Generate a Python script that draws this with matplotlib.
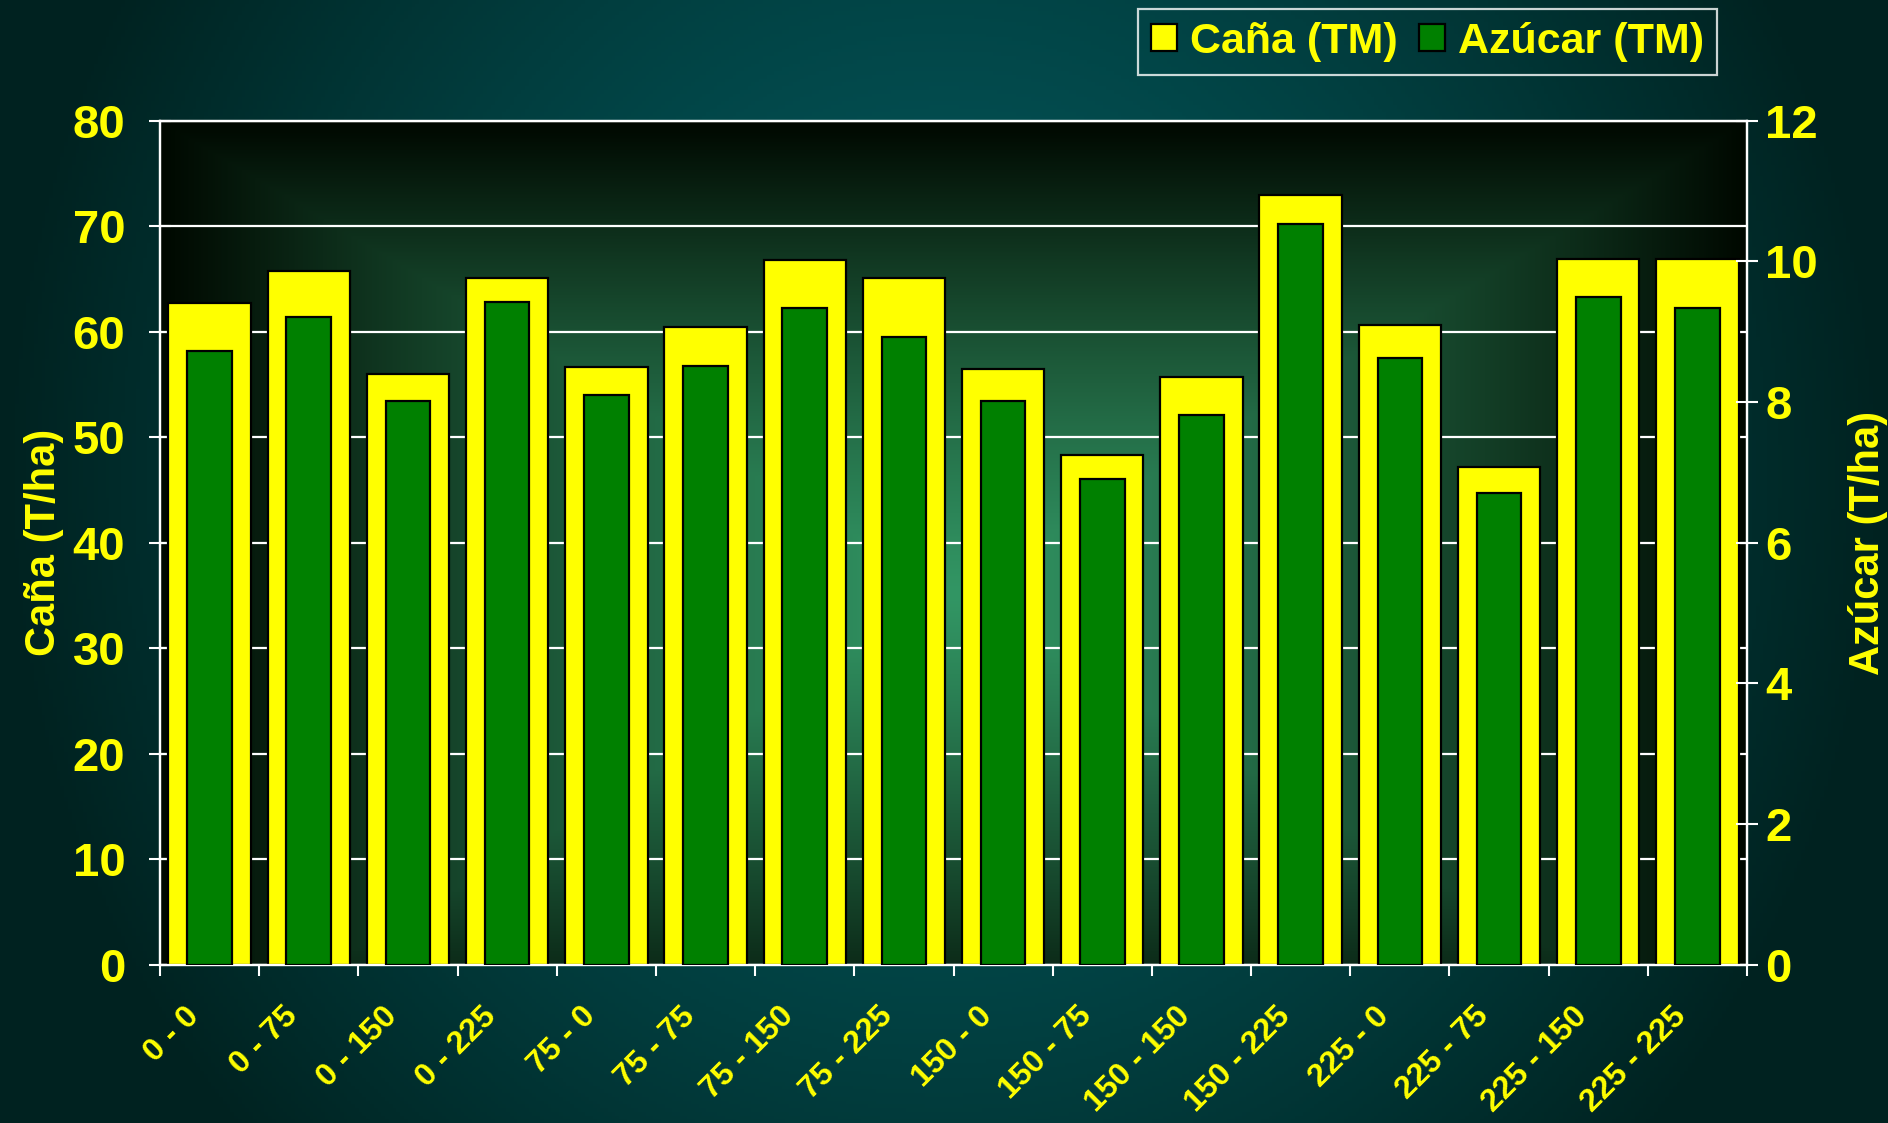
import matplotlib as mpl
import matplotlib.pyplot as plt
import numpy as np
from matplotlib.patches import Patch
from matplotlib.transforms import ScaledTranslation

mpl.rcParams.update(
    {
        "font.family": "sans-serif",
        "font.sans-serif": ["Liberation Sans", "Arial", "DejaVu Sans"],
        "font.weight": "bold",
    }
)

# dosis (kg/ha) combinations
categories = [
    "0 - 0", "0 - 75", "0 - 150", "0 - 225",
    "75 - 0", "75 - 75", "75 - 150", "75 - 225",
    "150 - 0", "150 - 75", "150 - 150", "150 - 225",
    "225 - 0", "225 - 75", "225 - 150", "225 - 225",
]
cana = [62.7, 65.8, 56.0, 65.1, 56.7, 60.4, 66.8, 65.1,
        56.5, 48.3, 55.7, 73.0, 60.6, 47.2, 66.9, 66.9]
azucar = [8.72, 9.21, 8.01, 9.42, 8.10, 8.51, 9.33, 8.92,
          8.02, 6.91, 7.81, 10.53, 8.62, 6.70, 9.50, 9.33]
left_ticks = [0, 10, 20, 30, 40, 50, 60, 70, 80]
right_ticks = [0, 2, 4, 6, 8, 10, 12]

YELLOW = "#FFFF00"
GREEN = "#008000"
WHITE = "#FFFFFF"

W, H = 1888, 1123
fig = plt.figure(figsize=(W / 100, H / 100), dpi=100)

# slide background: teal, lighter toward the middle
bg = fig.add_axes([0, 0, 1, 1], zorder=-10)
yy, xx = np.mgrid[0:1:300j, 0:1:500j]
d = np.sqrt(((xx - 0.5) / 0.5) ** 2 + ((yy - 0.42) / 0.9) ** 2)
d = np.clip(d, 0, 1)
c_in = np.array([3, 90, 94]) / 255
c_out = np.array([0, 34, 32]) / 255
img = c_in + (c_out - c_in) * d[..., None] ** 1.3
bg.imshow(img, extent=(0, 1, 0, 1), aspect="auto", origin="upper")
bg.axis("off")

ax = fig.add_axes([160 / W, 1 - 964.7 / H, (1747 - 160) / W, (964.7 - 120.7) / H])
ax2 = ax.twinx()
ax.set_zorder(1)
ax2.set_zorder(2)
ax.patch.set_alpha(0)
ax2.patch.set_alpha(0)

# plot area: rectangular path gradient, black edges to green centre
py, px = np.mgrid[0:1:300j, 0:1:600j]
pd = np.maximum(np.abs(px - 0.5) / 0.5, np.abs(py - 0.56) / 0.56)
pd = np.clip(pd, 0, 1)
p_in = np.array([50, 150, 100]) / 255
p_out = np.array([0, 8, 0]) / 255
pimg = p_in + (p_out - p_in) * pd[..., None] ** 1.2
ax.imshow(pimg, extent=(-0.5, len(categories) - 0.5, 0, 80), aspect="auto",
          origin="upper", zorder=0)

x = np.arange(len(categories))
ax.bar(x, cana, width=0.83, color=YELLOW, edgecolor="black", linewidth=1.6, zorder=3)
ax2.bar(x, azucar, width=0.45, color=GREEN, edgecolor="black", linewidth=1.6, zorder=3)

ax.set_xlim(-0.5, len(categories) - 0.5)
ax.set_ylim(0, 80)
ax2.set_ylim(0, 12)
ax.set_yticks(left_ticks)
ax2.set_yticks(right_ticks)
ax.yaxis.grid(True, color=WHITE, linewidth=1.6, zorder=1)
ax.set_axisbelow(True)

for a in (ax, ax2):
    for s in a.spines.values():
        s.set_color(WHITE)
        s.set_linewidth(1.6)

ax.tick_params(axis="y", direction="inout", length=16, width=1.5, color=WHITE,
               labelcolor=YELLOW, labelsize=34, pad=17)
ax2.tick_params(axis="y", direction="inout", length=16, width=1.5, color=WHITE,
                labelcolor=YELLOW, labelsize=34, pad=5)

# category boundaries as ticks, names at centres
ax.set_xticks(np.arange(len(categories) + 1) - 0.5)
ax.set_xticklabels([])
ax.set_xticks(x, minor=True)
ax.set_xticklabels(categories, minor=True, rotation=45, ha="right", va="center",
                   rotation_mode="anchor", fontsize=23, color=YELLOW, fontweight="bold")
ax.tick_params(axis="x", which="major", direction="out", length=8, width=1.5, color=WHITE)
ax.tick_params(axis="x", which="minor", length=0, pad=34)
shift = ScaledTranslation(-11 / 72, 0, fig.dpi_scale_trans)
for lbl in ax.get_xticklabels(minor=True):
    lbl.set_transform(lbl.get_transform() + shift)

ax.set_ylabel("Caña (T/ha)", color=YELLOW, fontsize=30, fontweight="bold", labelpad=6)
ax2.set_ylabel("Azúcar (T/ha)", color=YELLOW, fontsize=30, fontweight="bold",
               labelpad=22, rotation=90)

handles = [
    Patch(facecolor=YELLOW, edgecolor="black", linewidth=1.6, label="Caña (TM)"),
    Patch(facecolor=GREEN, edgecolor="black", linewidth=1.6, label="Azúcar (TM)"),
]
leg = fig.legend(handles=handles, loc="upper right", bbox_to_anchor=(1717 / W, 1 - 9 / H),
                 ncol=2, frameon=True, fancybox=False,
                 prop={"weight": "bold", "size": 31},
                 handlelength=0.6, handleheight=0.6, handletextpad=0.3,
                 columnspacing=0.5, borderpad=0.3, borderaxespad=0)
leg.get_frame().set_facecolor("none")
leg.get_frame().set_edgecolor(WHITE)
leg.get_frame().set_linewidth(1.6)
for t in leg.get_texts():
    t.set_color(YELLOW)

fig.savefig("out.png", dpi=100)
